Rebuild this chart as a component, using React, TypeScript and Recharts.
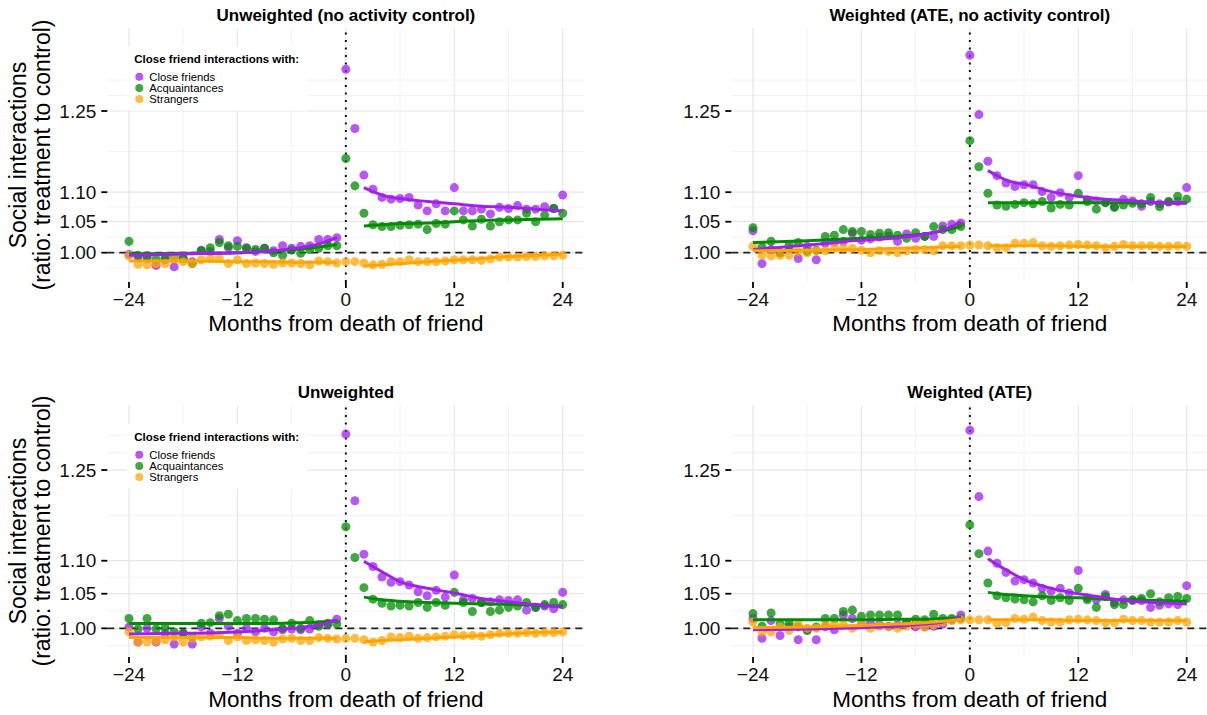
import React from 'react';
import { ComposedChart, Scatter, XAxis, YAxis, ZAxis, CartesianGrid, ReferenceLine } from 'recharts';

const months = [-24, -23, -22, -21, -20, -19, -18, -17, -16, -15, -14, -13, -12, -11, -10, -9, -8, -7, -6, -5, -4, -3, -2, -1, 0,
  1, 2, 3, 4, 5, 6, 7, 8, 9, 10, 11, 12, 13, 14, 15, 16, 17, 18, 19, 20, 21, 22, 23, 24];
const fitPreMonths = [-24, -18, -12, -8, -5, -3, -1];
const fitPostMonths = [2, 3, 4, 6, 9, 12, 15, 18, 21, 24];

const xTicks = [-24, -12, 0, 12, 24];
const xMinorBreaks = [-18, -6, 6, 18];
const yTicks = [1, 1.05, 1.1, 1.25];
const yMinorBreaks = [0.9759, 1.0247, 1.0747, 1.1726, 1.2809, 1.3125];
const xLimits = [-26.4, 26.4];
const yLimitsTop = [0.9549, 1.4246];
const yLimitsBottom = [0.9604, 1.37];

const seriesNames = ['Close friends', 'Acquaintances', 'Strangers'];
const seriesColors = ['#A020F0', '#008B00', '#FFA500'];
const legendTitle = 'Close friend interactions with:';
const panelTitles = ['Unweighted (no activity control)', 'Weighted (ATE, no activity control)', 'Unweighted', 'Weighted (ATE)'];
const xAxisTitle = 'Months from death of friend';
const yAxisTitle = ['Social interactions', '(ratio: treatment to control)'];

// ---------- Top-left: Unweighted (no activity control)
const tlClose = [0.997, 0.994, 0.991, 0.980, 0.989, 0.978, 0.991, 0.986, 1.004, 1.002, 1.021, 1.008, 1.019, 1.008, 1.002, 1.007, 1.003, 1.011, 1.007, 1.010, 1.011, 1.021, 1.021, 1.024, 1.335,
  1.216, 1.130, 1.105, 1.091, 1.088, 1.089, 1.091, 1.078, 1.068, 1.080, 1.068, 1.108, 1.068, 1.068, 1.071, 1.063, 1.074, 1.072, 1.077, 1.071, 1.071, 1.075, 1.072, 1.095];
const tlAcq = [1.018, 0.996, 0.995, 0.990, 0.993, 0.994, 0.991, 0.983, 1.003, 1.008, 1.016, 1.011, 1.010, 1.007, 1.005, 1.007, 1.000, 0.996, 1.004, 0.999, 1.005, 1.007, 1.011, 1.011, 1.160,
  1.111, 1.064, 1.045, 1.042, 1.042, 1.044, 1.045, 1.046, 1.037, 1.047, 1.046, 1.068, 1.053, 1.043, 1.054, 1.043, 1.050, 1.053, 1.053, 1.064, 1.050, 1.061, 1.072, 1.064];
const tlStr = [0.995, 0.982, 0.981, 0.983, 0.983, 0.990, 0.986, 0.984, 0.989, 0.991, 0.991, 0.983, 0.989, 0.983, 0.984, 0.983, 0.982, 0.984, 0.984, 0.983, 0.981, 0.987, 0.986, 0.984, 0.986,
  0.986, 0.984, 0.981, 0.982, 0.986, 0.986, 0.989, 0.986, 0.986, 0.986, 0.987, 0.989, 0.989, 0.989, 0.988, 0.990, 0.993, 0.993, 0.993, 0.994, 0.994, 0.995, 0.995, 0.996];
const tlCloseFitPre = [0.996, 0.998, 1.000, 1.003, 1.008, 1.014, 1.024];
const tlAcqFitPre = [0.998, 0.999, 1.000, 1.003, 1.006, 1.009, 1.013];
const tlStrFitPre = [0.987, 0.987, 0.986, 0.986, 0.985, 0.985, 0.985];
const tlCloseFitPost = [1.108, 1.101, 1.095, 1.089, 1.084, 1.080, 1.076, 1.074, 1.071, 1.068];
const tlAcqFitPost = [1.043, 1.044, 1.045, 1.047, 1.048, 1.050, 1.052, 1.053, 1.054, 1.055];
const tlStrFitPost = [0.979, 0.980, 0.981, 0.983, 0.986, 0.988, 0.991, 0.994, 0.996, 0.998];

// ---------- Top-right: Weighted (ATE, no activity control)
const trClose = [1.035, 0.983, 1.005, 1.000, 1.006, 0.991, 1.010, 0.989, 1.015, 1.017, 1.018, 1.031, 1.020, 1.022, 1.025, 1.027, 1.018, 1.030, 1.023, 1.026, 1.026, 1.043, 1.046, 1.048, 1.365,
  1.243, 1.155, 1.129, 1.116, 1.110, 1.113, 1.113, 1.101, 1.091, 1.099, 1.091, 1.129, 1.087, 1.085, 1.082, 1.075, 1.088, 1.085, 1.076, 1.084, 1.080, 1.083, 1.084, 1.108];
const trAcq = [1.040, 1.009, 1.018, 1.000, 1.012, 1.016, 1.002, 1.004, 1.026, 1.028, 1.037, 1.034, 1.034, 1.029, 1.031, 1.032, 1.028, 1.023, 1.032, 1.026, 1.042, 1.037, 1.037, 1.042, 1.193,
  1.145, 1.098, 1.078, 1.076, 1.079, 1.082, 1.080, 1.084, 1.073, 1.079, 1.078, 1.098, 1.084, 1.071, 1.082, 1.074, 1.078, 1.081, 1.080, 1.091, 1.075, 1.084, 1.093, 1.088];
const trStr = [1.010, 0.996, 0.995, 0.996, 0.996, 1.002, 1.000, 1.003, 1.003, 1.007, 1.007, 1.007, 1.004, 1.000, 1.003, 1.002, 1.000, 1.003, 1.005, 1.005, 1.003, 1.011, 1.011, 1.011, 1.012,
  1.012, 1.011, 1.008, 1.008, 1.015, 1.015, 1.016, 1.011, 1.010, 1.011, 1.012, 1.013, 1.012, 1.011, 1.008, 1.010, 1.013, 1.011, 1.011, 1.011, 1.010, 1.010, 1.011, 1.010];
const trCloseFitPre = [1.005, 1.012, 1.020, 1.024, 1.030, 1.036, 1.050];
const trAcqFitPre = [1.016, 1.019, 1.023, 1.026, 1.030, 1.035, 1.042];
const trStrFitPre = [1.003, 1.004, 1.005, 1.007, 1.008, 1.009, 1.010];
const trCloseFitPost = [1.138, 1.129, 1.121, 1.114, 1.101, 1.093, 1.088, 1.085, 1.082, 1.081];
const trAcqFitPost = [1.082, 1.082, 1.082, 1.082, 1.082, 1.082, 1.082, 1.082, 1.082, 1.082];
const trStrFitPost = [1.011, 1.011, 1.011, 1.011, 1.011, 1.010, 1.010, 1.010, 1.010, 1.010];

// ---------- Bottom-left: Unweighted
const blClose = [1.002, 0.981, 1.000, 0.981, 0.993, 0.978, 0.993, 0.978, 1.002, 0.993, 1.014, 1.003, 0.993, 1.000, 0.995, 1.000, 0.995, 0.998, 0.999, 0.998, 0.999, 1.005, 1.005, 1.013, 1.315,
  1.197, 1.110, 1.091, 1.075, 1.067, 1.068, 1.063, 1.053, 1.047, 1.055, 1.045, 1.078, 1.041, 1.043, 1.037, 1.038, 1.041, 1.040, 1.041, 1.026, 1.030, 1.032, 1.028, 1.052];
const blAcq = [1.014, 0.999, 1.014, 0.999, 1.001, 0.995, 0.993, 0.988, 1.007, 1.008, 1.018, 1.020, 1.011, 1.014, 1.014, 1.013, 1.012, 1.000, 1.007, 1.000, 1.011, 1.003, 1.007, 1.006, 1.154,
  1.105, 1.059, 1.042, 1.036, 1.032, 1.033, 1.032, 1.037, 1.030, 1.037, 1.033, 1.052, 1.037, 1.024, 1.037, 1.024, 1.026, 1.030, 1.032, 1.037, 1.030, 1.034, 1.037, 1.034];
const blStr = [0.995, 0.981, 0.981, 0.982, 0.984, 0.988, 0.981, 0.986, 0.988, 0.989, 0.991, 0.983, 0.988, 0.983, 0.984, 0.983, 0.981, 0.985, 0.986, 0.983, 0.983, 0.987, 0.986, 0.985, 0.986,
  0.986, 0.984, 0.981, 0.983, 0.988, 0.987, 0.989, 0.986, 0.987, 0.988, 0.989, 0.991, 0.990, 0.990, 0.989, 0.991, 0.993, 0.993, 0.993, 0.994, 0.993, 0.994, 0.994, 0.995];
const blCloseFitPre = [0.992, 0.993, 0.995, 0.998, 1.001, 1.005, 1.012];
const blAcqFitPre = [1.007, 1.007, 1.007, 1.007, 1.008, 1.009, 1.011];
const blStrFitPre = [0.987, 0.987, 0.987, 0.986, 0.986, 0.986, 0.986];
const blCloseFitPost = [1.099, 1.091, 1.083, 1.068, 1.058, 1.051, 1.043, 1.038, 1.034, 1.030];
const blAcqFitPost = [1.045, 1.043, 1.041, 1.039, 1.037, 1.036, 1.035, 1.034, 1.033, 1.032];
const blStrFitPost = [0.981, 0.982, 0.983, 0.984, 0.986, 0.988, 0.990, 0.992, 0.994, 0.995];

// ---------- Bottom-right: Weighted (ATE)
const brClose = [1.014, 0.986, 1.011, 0.990, 1.002, 0.984, 0.998, 0.984, 1.002, 0.998, 1.019, 1.014, 1.005, 1.007, 1.005, 1.003, 1.005, 1.007, 1.002, 1.002, 1.003, 1.006, 1.012, 1.019, 1.322,
  1.204, 1.115, 1.096, 1.082, 1.069, 1.071, 1.066, 1.058, 1.054, 1.058, 1.051, 1.085, 1.044, 1.041, 1.049, 1.037, 1.041, 1.040, 1.040, 1.030, 1.033, 1.035, 1.034, 1.062];
const brAcq = [1.021, 1.003, 1.022, 1.006, 1.007, 1.002, 0.997, 1.002, 1.014, 1.014, 1.024, 1.026, 1.017, 1.019, 1.019, 1.019, 1.019, 1.008, 1.013, 1.012, 1.020, 1.014, 1.014, 1.014, 1.157,
  1.111, 1.066, 1.047, 1.044, 1.042, 1.041, 1.038, 1.047, 1.040, 1.044, 1.040, 1.058, 1.041, 1.030, 1.046, 1.034, 1.034, 1.041, 1.043, 1.050, 1.038, 1.044, 1.046, 1.043];
const brStr = [1.009, 0.995, 0.995, 1.002, 0.997, 1.005, 1.000, 1.000, 1.005, 1.006, 1.005, 1.000, 1.007, 1.000, 1.003, 1.002, 1.000, 1.003, 1.005, 1.002, 1.005, 1.009, 1.011, 1.012, 1.012,
  1.012, 1.012, 1.007, 1.008, 1.014, 1.013, 1.016, 1.011, 1.009, 1.009, 1.012, 1.013, 1.012, 1.011, 1.008, 1.008, 1.013, 1.011, 1.011, 1.009, 1.009, 1.009, 1.011, 1.009];
const brCloseFitPre = [0.998, 0.999, 1.001, 1.003, 1.006, 1.009, 1.016];
const brAcqFitPre = [1.012, 1.012, 1.012, 1.013, 1.013, 1.014, 1.015];
const brStrFitPre = [1.001, 1.002, 1.004, 1.006, 1.008, 1.010, 1.013];
const brCloseFitPost = [1.103, 1.094, 1.086, 1.071, 1.058, 1.050, 1.044, 1.039, 1.037, 1.035];
const brAcqFitPost = [1.052, 1.050, 1.049, 1.047, 1.045, 1.044, 1.042, 1.041, 1.040, 1.039];
const brStrFitPost = [1.012, 1.012, 1.012, 1.012, 1.012, 1.011, 1.011, 1.011, 1.011, 1.011];

const FONT = '"Liberation Sans", Arial, Helvetica, sans-serif';

type Pt = { m: number; v: number };
const toPts = (xs: number[], ys: number[]): Pt[] => xs.map((m, i) => ({ m, v: ys[i] }));
const emptyShape = () => <g />;
const fmtX = (v: number) => (v < 0 ? '\u2212' + Math.abs(v) : String(v));
const fmtY = (v: number) => v.toFixed(2);

type PanelData = {
  points: number[][];
  pre: number[][];
  post: number[][];
};

const panels: PanelData[] = [
  { points: [tlClose, tlAcq, tlStr], pre: [tlCloseFitPre, tlAcqFitPre, tlStrFitPre], post: [tlCloseFitPost, tlAcqFitPost, tlStrFitPost] },
  { points: [trClose, trAcq, trStr], pre: [trCloseFitPre, trAcqFitPre, trStrFitPre], post: [trCloseFitPost, trAcqFitPost, trStrFitPost] },
  { points: [blClose, blAcq, blStr], pre: [blCloseFitPre, blAcqFitPre, blStrFitPre], post: [blCloseFitPost, blAcqFitPost, blStrFitPost] },
  { points: [brClose, brAcq, brStr], pre: [brCloseFitPre, brAcqFitPre, brStrFitPre], post: [brCloseFitPost, brAcqFitPost, brStrFitPost] },
];

type PanelProps = {
  data: PanelData;
  left: number;
  top: number;
  width: number;
  height: number;
  yAxisWidth: number;
  marginTop: number;
  marginRight: number;
  yLimits: number[];
};

const lineOrder = [1, 0, 2];

function Panel({ data, left, top, width, height, yAxisWidth, marginTop, marginRight, yLimits }: PanelProps) {
  return (
    <div style={{ position: 'absolute', left, top }}>
      <ComposedChart width={width} height={height} margin={{ top: marginTop, right: marginRight, bottom: 28, left: 0 }}>
        <CartesianGrid horizontalValues={yMinorBreaks} verticalValues={xMinorBreaks} stroke="#F1F1F1" strokeWidth={0.9} />
        <CartesianGrid horizontalValues={yTicks} verticalValues={xTicks} stroke="#E6E6E6" strokeWidth={1.2} />
        <XAxis
          type="number"
          dataKey="m"
          domain={xLimits}
          ticks={xTicks}
          interval={0}
          allowDataOverflow
          axisLine={false}
          tickLine={{ stroke: '#000', strokeWidth: 1.8 }}
          tickSize={6}
          tickMargin={5}
          tick={{ fill: '#111', fontSize: 19, fontFamily: FONT }}
          tickFormatter={fmtX}
          height={30}
        />
        <YAxis
          type="number"
          dataKey="v"
          scale="log"
          domain={yLimits}
          ticks={yTicks}
          interval={0}
          allowDataOverflow
          axisLine={false}
          tickLine={{ stroke: '#000', strokeWidth: 1.8 }}
          tickSize={6}
          tickMargin={5}
          tick={{ fill: '#111', fontSize: 19, fontFamily: FONT }}
          tickFormatter={fmtY}
          width={yAxisWidth}
        />
        <ZAxis range={[74, 74]} />
        {data.points.map((vals, i) => (
          <Scatter
            key={'pts' + i}
            name={seriesNames[i]}
            data={toPts(months, vals)}
            fill={seriesColors[i]}
            fillOpacity={0.75}
            isAnimationActive={false}
          />
        ))}
        {lineOrder.map((i) => (
          <Scatter
            key={'pre' + i}
            data={toPts(fitPreMonths, data.pre[i])}
            fill={seriesColors[i]}
            line={{ stroke: seriesColors[i], strokeWidth: 3 }}
            lineJointType="monotoneX"
            shape={emptyShape}
            legendType="none"
            isAnimationActive={false}
          />
        ))}
        {lineOrder.map((i) => (
          <Scatter
            key={'post' + i}
            data={toPts(fitPostMonths, data.post[i])}
            fill={seriesColors[i]}
            line={{ stroke: seriesColors[i], strokeWidth: 3 }}
            lineJointType="monotoneX"
            shape={emptyShape}
            legendType="none"
            isAnimationActive={false}
          />
        ))}
        <ReferenceLine y={1} stroke="#222" strokeWidth={1.8} strokeDasharray="7 5" />
        <ReferenceLine x={0} stroke="#111" strokeWidth={2} strokeDasharray="2 5.5" />
      </ComposedChart>
    </div>
  );
}

function LegendBox({ top }: { top: number }) {
  return (
    <g>
      <rect x={127} y={top} width={180} height={64} fill="#fff" />
      <text x={134.3} y={top + 16.5} fontFamily={FONT} fontWeight="bold" fontSize={11.5} fill="#000">
        {legendTitle}
      </text>
      {seriesNames.map((n, i) => (
        <g key={n}>
          <circle cx={139.3} cy={top + 30.2 + i * 11.2} r={4} fill={seriesColors[i]} fillOpacity={0.75} />
          <text x={149.3} y={top + 34.2 + i * 11.2} fontFamily={FONT} fontSize={11.3} fill="#000">
            {n}
          </text>
        </g>
      ))}
    </g>
  );
}

function YTitle({ cy }: { cy: number }) {
  return (
    <g>
      <text x={26} y={cy} transform={`rotate(-90 26 ${cy})`} textAnchor="middle" fontFamily={FONT} fontSize={23} fill="#000">
        {yAxisTitle[0]}
      </text>
      <text x={49.5} y={cy} transform={`rotate(-90 49.5 ${cy})`} textAnchor="middle" fontFamily={FONT} fontSize={23} fill="#000">
        {yAxisTitle[1]}
      </text>
    </g>
  );
}

export default function App() {
  const leftCenter = 345.9;
  const rightCenter = 969.8;
  return (
    <div style={{ position: 'absolute', left: 0, top: 0, width: 1207, height: 715, overflow: 'hidden', background: '#fff' }}>
      <Panel data={panels[0]} left={0} top={0} width={600} height={340} yAxisWidth={107.3} marginTop={28} marginRight={15.6} yLimits={yLimitsTop} />
      <Panel data={panels[1]} left={620} top={0} width={590} height={340} yAxisWidth={111.3} marginTop={28} marginRight={1.6} yLimits={yLimitsTop} />
      <Panel data={panels[2]} left={0} top={376} width={600} height={339} yAxisWidth={107.3} marginTop={29} marginRight={15.6} yLimits={yLimitsBottom} />
      <Panel data={panels[3]} left={620} top={376} width={590} height={339} yAxisWidth={111.3} marginTop={29} marginRight={1.6} yLimits={yLimitsBottom} />
      <svg width={1207} height={715} style={{ position: 'absolute', left: 0, top: 0, pointerEvents: 'none' }}>
        <text x={leftCenter} y={20.7} textAnchor="middle" fontFamily={FONT} fontWeight="bold" fontSize={17} fill="#000">{panelTitles[0]}</text>
        <text x={rightCenter} y={20.7} textAnchor="middle" fontFamily={FONT} fontWeight="bold" fontSize={17} fill="#000">{panelTitles[1]}</text>
        <text x={leftCenter} y={398} textAnchor="middle" fontFamily={FONT} fontWeight="bold" fontSize={17} fill="#000">{panelTitles[2]}</text>
        <text x={rightCenter} y={398} textAnchor="middle" fontFamily={FONT} fontWeight="bold" fontSize={17} fill="#000">{panelTitles[3]}</text>
        <text x={leftCenter} y={331} textAnchor="middle" fontFamily={FONT} fontSize={22.5} fill="#000">{xAxisTitle}</text>
        <text x={rightCenter} y={331} textAnchor="middle" fontFamily={FONT} fontSize={22.5} fill="#000">{xAxisTitle}</text>
        <text x={leftCenter} y={707} textAnchor="middle" fontFamily={FONT} fontSize={22.5} fill="#000">{xAxisTitle}</text>
        <text x={rightCenter} y={707} textAnchor="middle" fontFamily={FONT} fontSize={22.5} fill="#000">{xAxisTitle}</text>
        <YTitle cy={155} />
        <YTitle cy={531} />
        <LegendBox top={46.5} />
        <LegendBox top={424.5} />
      </svg>
    </div>
  );
}
